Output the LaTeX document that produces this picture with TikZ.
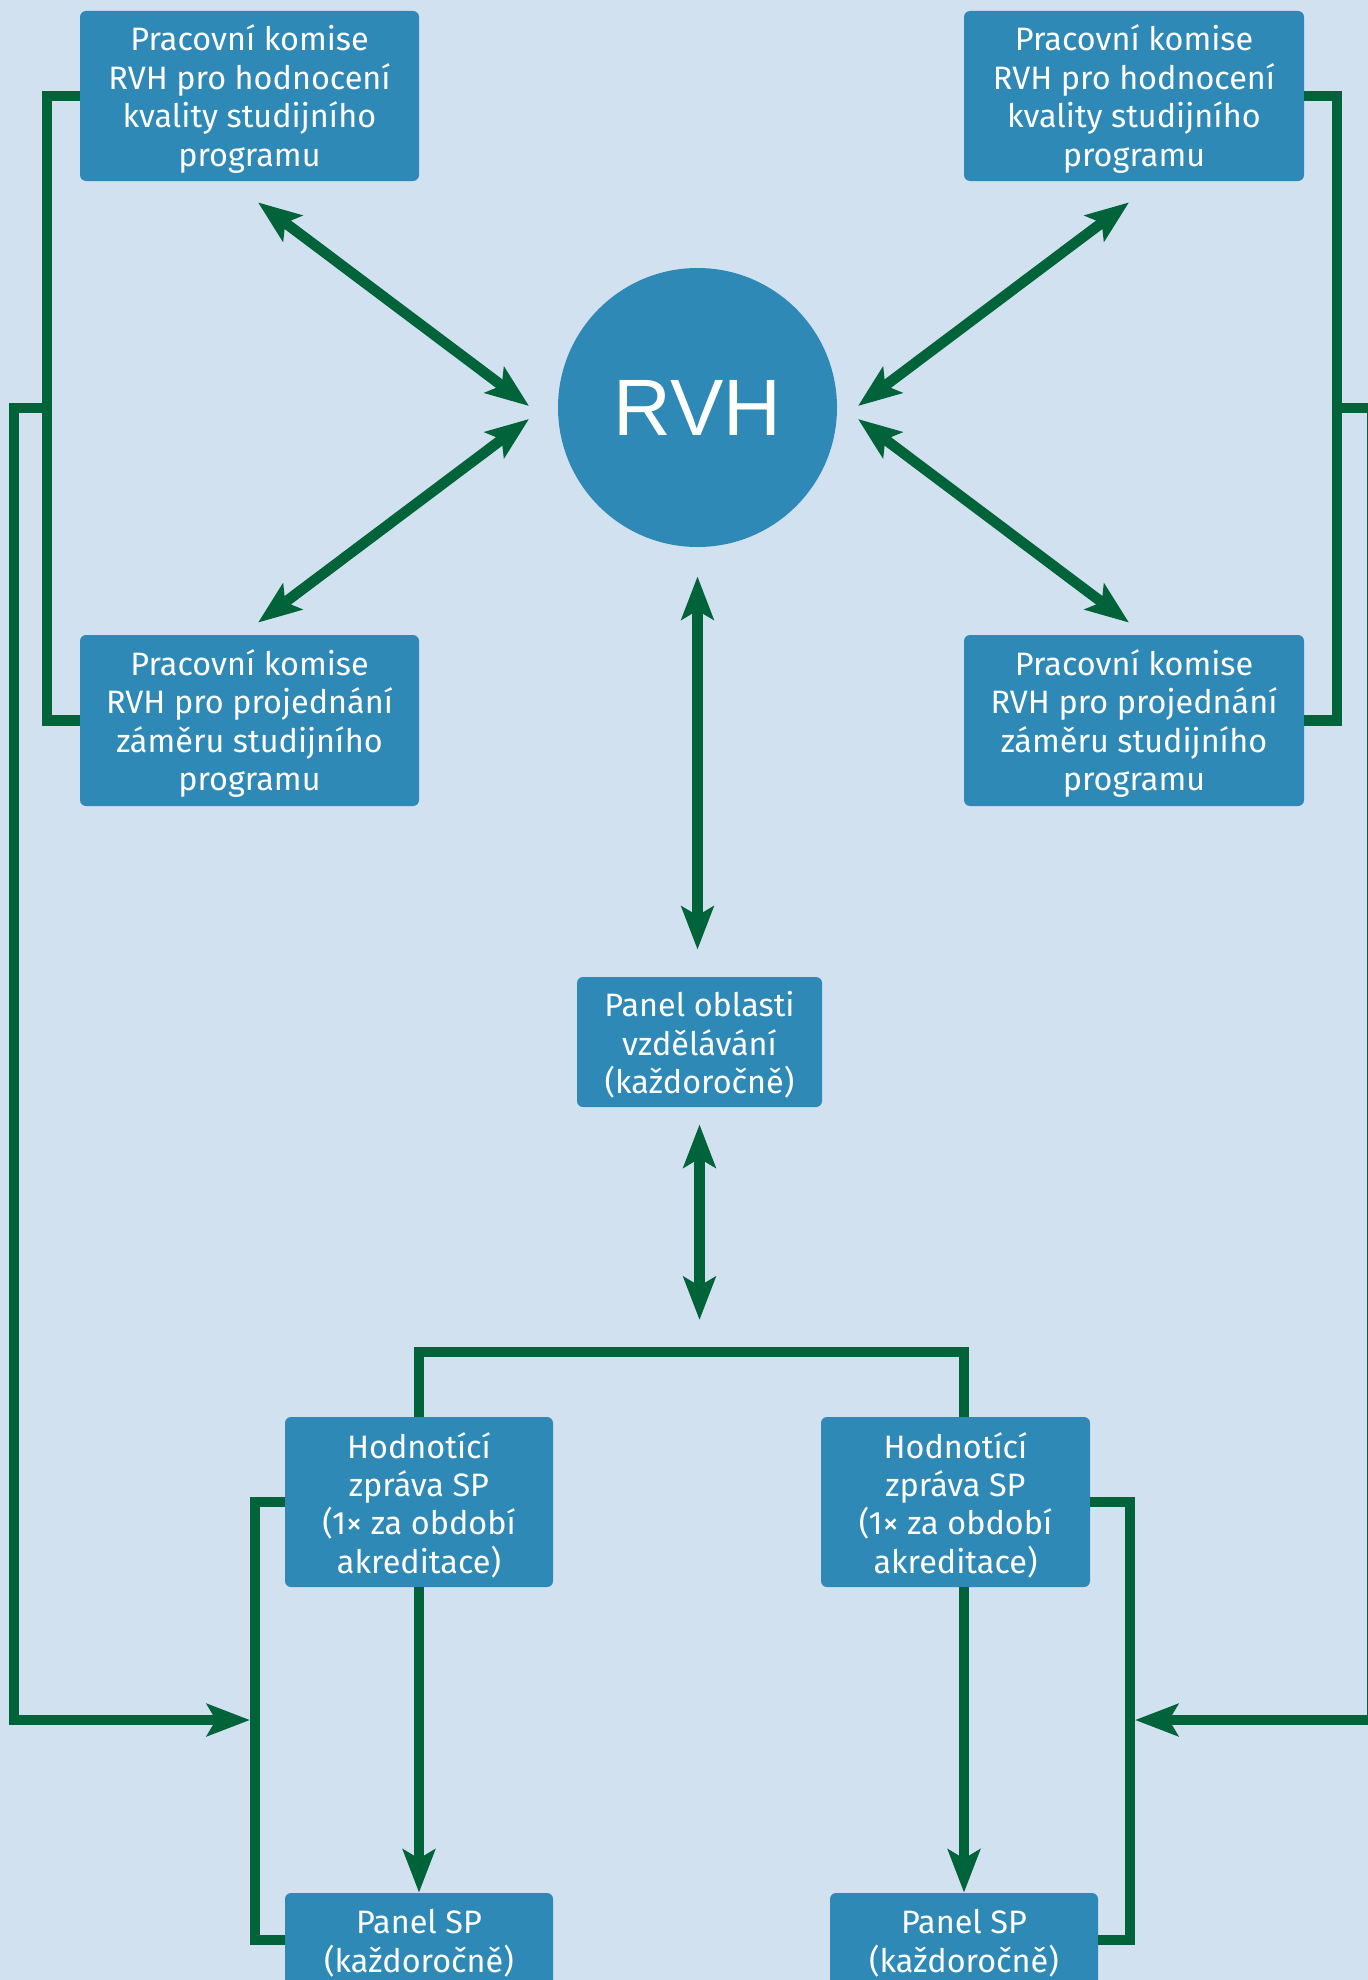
\documentclass[tikz,border=0pt]{standalone}
\usepackage{fontspec}
\setmainfont{Fira Sans}
\newfontfamily\rvhfont{Liberation Sans}
\usetikzlibrary{arrows.meta,calc}
\definecolor{bg}{HTML}{D2E1EF}
\definecolor{boxblue}{HTML}{2E89B6}
\definecolor{lineg}{HTML}{006339}
\tikzset{>={Stealth[length=21.5pt,width=16pt,inset=4.5pt]}}
\tikzset{
  box/.style={rectangle,rounded corners=3pt,fill=boxblue,text=white,
    align=center,inner sep=0pt,font=\fontsize{16.2}{19.2}\selectfont},
  txt/.style={yshift=-1.5pt},
  link/.style={draw=lineg,line width=5.3pt}
}

\begin{document}
\begin{tikzpicture}[x=0.5pt,y=-0.5pt]
\fill[bg] (0,0) rectangle (1368,1980);
\useasboundingbox (0,0) rectangle (1368,1980);
% pracovni komise
\node[box,minimum width=169.5pt,minimum height=85pt] (KHl) at (249.5,96) {};
\node[box,minimum width=170pt,minimum height=85pt] (KHr) at (1134,96) {};
\node[box,minimum width=169.5pt,minimum height=85.5pt] (KZl) at (249.5,720.5) {};
\node[box,minimum width=170pt,minimum height=85.5pt] (KZr) at (1134,720.5) {};
\node[box,txt] (KHlt) at (KHl) {Pracovní komise\\RVH pro hodnocení\\kvality studijního\\programu};
\node[box,txt] (KHrt) at (KHr) {Pracovní komise\\RVH pro hodnocení\\kvality studijního\\programu};
\node[box,txt] (KZlt) at (KZl) {Pracovní komise\\RVH pro projednání\\záměru studijního\\programu};
\node[box,txt] (KZrt) at (KZr) {Pracovní komise\\RVH pro projednání\\záměru studijního\\programu};
\node[circle,fill=boxblue,minimum size=139.5pt,inner sep=0pt,text=white,
  font=\rvhfont\fontsize{40}{48}\selectfont] (RVH) at (697.5,407.5) {RVH};
\node[box,minimum width=122.5pt,minimum height=65pt] (PO) at (699.5,1042) {};
\node[box,txt] (POt) at (PO) {Panel oblasti\\vzdělávání\\(každoročně)};
% hodnotici zpravy a panely SP
\node[box,minimum width=134pt,minimum height=85pt] (HZl) at (419,1502) {};
\node[box,minimum width=134.5pt,minimum height=85pt] (HZr) at (955.5,1502) {};
\node[box,minimum width=134pt,minimum height=47pt] (PSl) at (419,1940) {};
\node[box,minimum width=134pt,minimum height=47pt] (PSr) at (964,1940) {};
\node[box,txt] (HZlt) at (HZl) {Hodnotící\\zpráva SP\\(1× za období\\akreditace)};
\node[box,txt] (HZrt) at (HZr) {Hodnotící\\zpráva SP\\(1× za období\\akreditace)};
\node[box,txt] (PSlt) at (PSl) {Panel SP\\(každoročně)};
\node[box,txt] (PSrt) at (PSr) {Panel SP\\(každoročně)};
\coordinate (T) at (700,1352);
\coordinate (BKl) at (47,408);
\coordinate (BKr) at (1337,408);
\coordinate (BHl) at (255,1720);
\coordinate (BHr) at (1130,1720);
% sipky k RVH
\draw[link,<->] ($(KHl.south)+(8.5,21)$) -- ($(RVH)+(-168.5,-1.5)$);
\draw[link,<->] ($(KZl.north)+(8.5,-12)$) -- ($(RVH)+(-168.5,11.5)$);
\draw[link,<->] ($(KHr.south)+(-5,21)$) -- ($(RVH)+(160.5,-1.5)$);
\draw[link,<->] ($(KZr.north)+(-5,-12)$) -- ($(RVH)+(160.5,11.5)$);
\draw[link,<->,shorten <=14.5pt,shorten >=13.5pt] (RVH.south) -- (RVH.south |- PO.north);
\draw[link,<->,shorten <=8.5pt,shorten >=16pt] (PO.south) -- (PO.south |- T);
\draw[link] (HZl.north) |- (T) -| (PSr.north |- HZr.north);
\draw[link,->] (HZl.south) -- (PSl.north);
\draw[link,->] (PSr.north |- HZr.south) -- (PSr.north);
% zavorky
\draw[link] (KHl.west) -| (BKl) |- (KZl.west);
\draw[link] (KHr.east) -| (BKr) |- (KZr.east);
\draw[link] (HZl.west) -| (BHl) |- (PSl.west);
\draw[link] (HZr.east) -| (BHr) |- (PSr.east);
\draw[link,->,shorten >=2.5pt] (BKl) -- ++(-33,0) |- (BHl);
\draw[link,->,shorten >=2.5pt] (BKr) -- ++(35,0) |- (BHr);
\end{tikzpicture}
\end{document}
